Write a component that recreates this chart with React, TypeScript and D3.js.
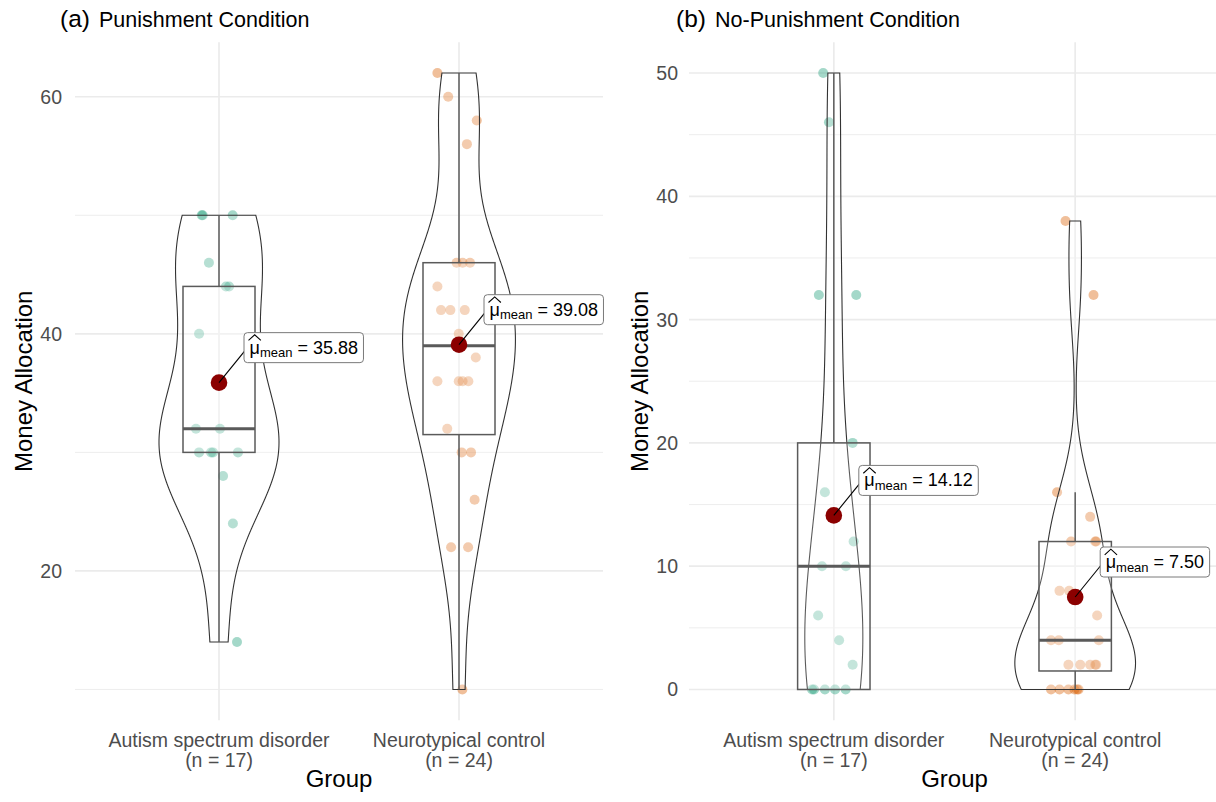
import React, { useEffect, useRef } from 'react';
import * as d3 from 'd3';

const groups = ['Autism spectrum disorder', 'Neurotypical control'];
const groupSizes = ['(n = 17)', '(n = 24)'];
const groupColors = ['#1B9E77', '#D95F02'];

// (a) Punishment condition: money allocated, with the horizontal jitter (in category units)
const punishASD = [50, 50, 50, 46, 44, 44, 40, 36, 32, 32, 30, 30, 30, 30, 28, 24, 14];
const punishASDJitter = [-0.072, -0.068, 0.057, -0.042, 0.029, 0.042, -0.083, 0.004, -0.096, 0.004, -0.083, -0.033, -0.025, 0.079, 0.017, 0.058, 0.075];
const punishNC = [62, 60, 58, 56, 46, 46, 46, 44, 42, 42, 42, 40, 38, 36, 36, 36, 36, 32, 30, 30, 26, 22, 22, 10];
const punishNCJitter = [-0.09, -0.045, 0.074, 0.033, -0.01, 0.015, 0.046, -0.09, -0.075, -0.036, 0.024, -0.001, 0.07, -0.09, -0.001, 0.015, 0.039, -0.049, 0.011, 0.05, 0.065, -0.033, 0.038, 0.014];

// (b) No-punishment condition
const noPunishASD = [50, 46, 32, 32, 20, 16, 12, 10, 10, 6, 4, 2, 0, 0, 0, 0, 0];
const noPunishASDJitter = [-0.044, -0.02, -0.062, 0.093, 0.078, -0.037, 0.082, -0.049, 0.05, -0.065, 0.022, 0.078, -0.09, -0.082, -0.037, 0.005, 0.049];
const noPunishNC = [38, 32, 16, 14, 12, 12, 12, 8, 8, 6, 4, 4, 4, 2, 2, 2, 2, 2, 0, 0, 0, 0, 0, 0];
const noPunishNCJitter = [-0.04, 0.076, -0.075, 0.062, -0.017, 0.083, 0.087, -0.065, -0.025, 0.091, -0.1, -0.068, 0.098, -0.028, 0.021, 0.062, 0.083, 0.087, -0.1, -0.065, -0.028, -0.003, 0.014, 0.008];

const ticksA = [20, 40, 60];
const minorA = [10, 30, 50];
const ticksB = [0, 10, 20, 30, 40, 50];
const minorB = [5, 15, 25, 35, 45];

const panels = [
  { tag: '(a)', title: 'Punishment Condition', values: [punishASD, punishNC], jitter: [punishASDJitter, punishNCJitter],
    ticks: ticksA, minor: minorA, xRange: [75, 603], tagX: 60, titleX: 99, tickX: 62, yTitleX: 31.5 },
  { tag: '(b)', title: 'No-Punishment Condition', values: [noPunishASD, noPunishNC], jitter: [noPunishASDJitter, noPunishNCJitter],
    ticks: ticksB, minor: minorB, xRange: [689, 1220], tagX: 676, titleX: 715, tickX: 678, yTitleX: 647.5 },
];

const FONT = '"Liberation Sans", Arial, sans-serif';

// R's bw.nrd0
function bwNrd0(x: number[]) {
  const hi = d3.deviation(x) || 0;
  const iqr = (d3.quantile(x, 0.75) as number) - (d3.quantile(x, 0.25) as number);
  let lo = Math.min(hi, iqr / 1.34);
  if (!(lo > 0)) lo = hi || Math.abs(x[0]) || 1;
  return 0.9 * lo * Math.pow(x.length, -0.2);
}

function kde(x: number[], bw: number, y: number) {
  let s = 0;
  for (const v of x) {
    const u = (y - v) / bw;
    s += Math.exp(-0.5 * u * u);
  }
  return s / (x.length * bw * Math.sqrt(2 * Math.PI));
}

const App = () => {
  const ref = useRef<SVGSVGElement>(null);

  useEffect(() => {
    const svg = d3.select(ref.current);
    svg.selectAll('*').remove();

    panels.forEach((p) => {
      const all = p.values.flat();
      const lo = d3.min(all) as number, hi = d3.max(all) as number;
      const pad = (hi - lo) * 0.05;
      const y = d3.scaleLinear().domain([lo - pad, hi + pad]).range([720.3, 42.2]);
      const x = d3.scalePoint<string>().domain(groups).range(p.xRange as [number, number]).padding(0.6);
      const step = x.step();
      const [x0, x1] = p.xRange;
      const g = svg.append('g');

      // grid
      g.selectAll('line.minor').data(p.minor).join('line')
        .attr('x1', x0).attr('x2', x1).attr('y1', d => y(d)).attr('y2', d => y(d))
        .attr('stroke', '#EBEBEB').attr('stroke-width', 0.9);
      g.selectAll('line.major').data(p.ticks).join('line')
        .attr('x1', x0).attr('x2', x1).attr('y1', d => y(d)).attr('y2', d => y(d))
        .attr('stroke', '#EBEBEB').attr('stroke-width', 1.7);
      g.selectAll('line.vgrid').data(groups).join('line')
        .attr('x1', d => x(d)!).attr('x2', d => x(d)!).attr('y1', y.range()[1]).attr('y2', y.range()[0])
        .attr('stroke', '#EBEBEB').attr('stroke-width', 1.7);

      // y ticks
      g.selectAll('text.ytick').data(p.ticks).join('text')
        .attr('x', p.tickX).attr('y', d => y(d)).attr('dy', '0.36em')
        .attr('text-anchor', 'end').attr('font-family', FONT).attr('font-size', 19.5).attr('fill', '#4D4D4D')
        .text(d => d);

      // x ticks
      groups.forEach((grp, i) => {
        const t = g.append('text').attr('font-family', FONT).attr('font-size', 19.5).attr('fill', '#4D4D4D')
          .attr('text-anchor', 'middle');
        t.append('tspan').attr('x', x(grp)!).attr('y', 747).text(grp);
        t.append('tspan').attr('x', x(grp)!).attr('y', 767).text(groupSizes[i]);
      });

      // axis titles
      g.append('text').attr('x', (x0 + x1) / 2).attr('y', 787).attr('text-anchor', 'middle')
        .attr('font-family', FONT).attr('font-size', 24).attr('fill', '#000').text('Group');
      g.append('text').attr('transform', `translate(${p.yTitleX},${(y.range()[0] + y.range()[1]) / 2}) rotate(-90)`)
        .attr('text-anchor', 'middle').attr('font-family', FONT).attr('font-size', 24).attr('fill', '#000')
        .text('Money Allocation');

      // title
      g.append('text').attr('x', p.tagX).attr('y', 26.5).attr('font-family', FONT).attr('font-size', 24.5).text(p.tag);
      g.append('text').attr('x', p.titleX).attr('y', 26.5).attr('font-family', FONT).attr('font-size', 21.5).text(p.title);

      // jittered points
      groups.forEach((grp, i) => {
        g.append('g').selectAll('circle').data(p.values[i]).join('circle')
          .attr('cx', (d, j) => x(grp)! + p.jitter[i][j] * step)
          .attr('cy', d => y(d)).attr('r', 5)
          .attr('fill', groupColors[i]).attr('fill-opacity', 0.4);
      });

      // violins (scale = "area": common max density per panel)
      const dens = p.values.map((v) => {
        const bw = bwNrd0(v);
        const mn = d3.min(v) as number, mx = d3.max(v) as number;
        return d3.range(512).map((k) => {
          const yy = mn + (mx - mn) * k / 511;
          return [yy, kde(v, bw, yy)] as [number, number];
        });
      });
      const maxD = d3.max(dens.flat(), d => d[1]) as number;
      dens.forEach((dd, i) => {
        const cx = x(groups[i])!;
        const hw = (d: [number, number]) => d[1] / maxD * 0.25 * step;
        const pts: [number, number][] = [
          ...dd.map(d => [cx + hw(d), y(d[0])] as [number, number]),
          ...dd.slice().reverse().map(d => [cx - hw(d), y(d[0])] as [number, number]),
        ];
        g.append('path').attr('d', d3.line()(pts) + 'Z')
          .attr('fill', 'white').attr('fill-opacity', 0.2)
          .attr('stroke', '#333').attr('stroke-width', 1.1);
      });

      // boxplots
      p.values.forEach((v, i) => {
        const cx = x(groups[i])!;
        const q1 = d3.quantile(v, 0.25)!, med = d3.quantile(v, 0.5)!, q3 = d3.quantile(v, 0.75)!;
        const iqr = q3 - q1;
        const wLo = d3.min(v.filter(d => d >= q1 - 1.5 * iqr))!;
        const wHi = d3.max(v.filter(d => d <= q3 + 1.5 * iqr))!;
        const bw = 0.15 * step;
        const bg = g.append('g').attr('stroke', '#5A5A5A');
        bg.append('line').attr('x1', cx).attr('x2', cx).attr('y1', y(q3)).attr('y2', y(wHi)).attr('stroke-width', 1.5);
        bg.append('line').attr('x1', cx).attr('x2', cx).attr('y1', y(q1)).attr('y2', y(wLo)).attr('stroke-width', 1.5);
        bg.append('rect').attr('x', cx - bw).attr('width', 2 * bw).attr('y', y(q3)).attr('height', y(q1) - y(q3))
          .attr('fill', 'white').attr('fill-opacity', 0.2).attr('stroke-width', 1.5);
        bg.append('line').attr('x1', cx - bw).attr('x2', cx + bw).attr('y1', y(med)).attr('y2', y(med))
          .attr('stroke-width', 3);
      });

      // means with labels
      p.values.forEach((v, i) => {
        const cx = x(groups[i])!;
        const m = d3.mean(v)!;
        const my = y(m);
        g.append('circle').attr('cx', cx).attr('cy', my).attr('r', 8.3).attr('fill', '#8B0000');
        const bx = cx + 25, bc = my - 35;
        const lab = g.append('g');
        const rect = lab.append('rect');
        const t = lab.append('text').attr('x', bx + 5.5).attr('y', bc + 6)
          .attr('font-family', FONT).attr('font-size', 18).attr('fill', '#000');
        const mu = t.append('tspan').text('μ');
        t.append('tspan').attr('font-size', 13).attr('dy', 3.5).text('mean');
        t.append('tspan').attr('dy', -3.5).text(' = ' + d3.format('.2f')(m));
        const tn = t.node() as SVGTextElement;
        const tw = tn.getComputedTextLength();
        const muW = (mu.node() as SVGTSpanElement).getComputedTextLength();
        rect.attr('x', bx).attr('y', bc - 15).attr('width', tw + 11).attr('height', 30)
          .attr('rx', 3.5).attr('fill', 'white').attr('stroke', '#7A7A7A').attr('stroke-width', 1);
        lab.append('path')
          .attr('d', `M${bx + 4.5},${bc - 7.2} L${bx + 5.5 + muW / 2},${bc - 12.8} L${bx + 6.5 + muW},${bc - 7.2}`)
          .attr('fill', 'none').attr('stroke', '#000').attr('stroke-width', 1.1);
        g.insert('line', () => lab.node())
          .attr('x1', cx).attr('y1', my).attr('x2', bx + 1).attr('y2', bc + 3)
          .attr('stroke', '#000').attr('stroke-width', 1.1);
      });
    });
  }, []);

  return (
    <svg ref={ref} width={1216} height={802}
      style={{ position: 'absolute', left: 0, top: 0, background: 'white' }} />
  );
};

export default App;
